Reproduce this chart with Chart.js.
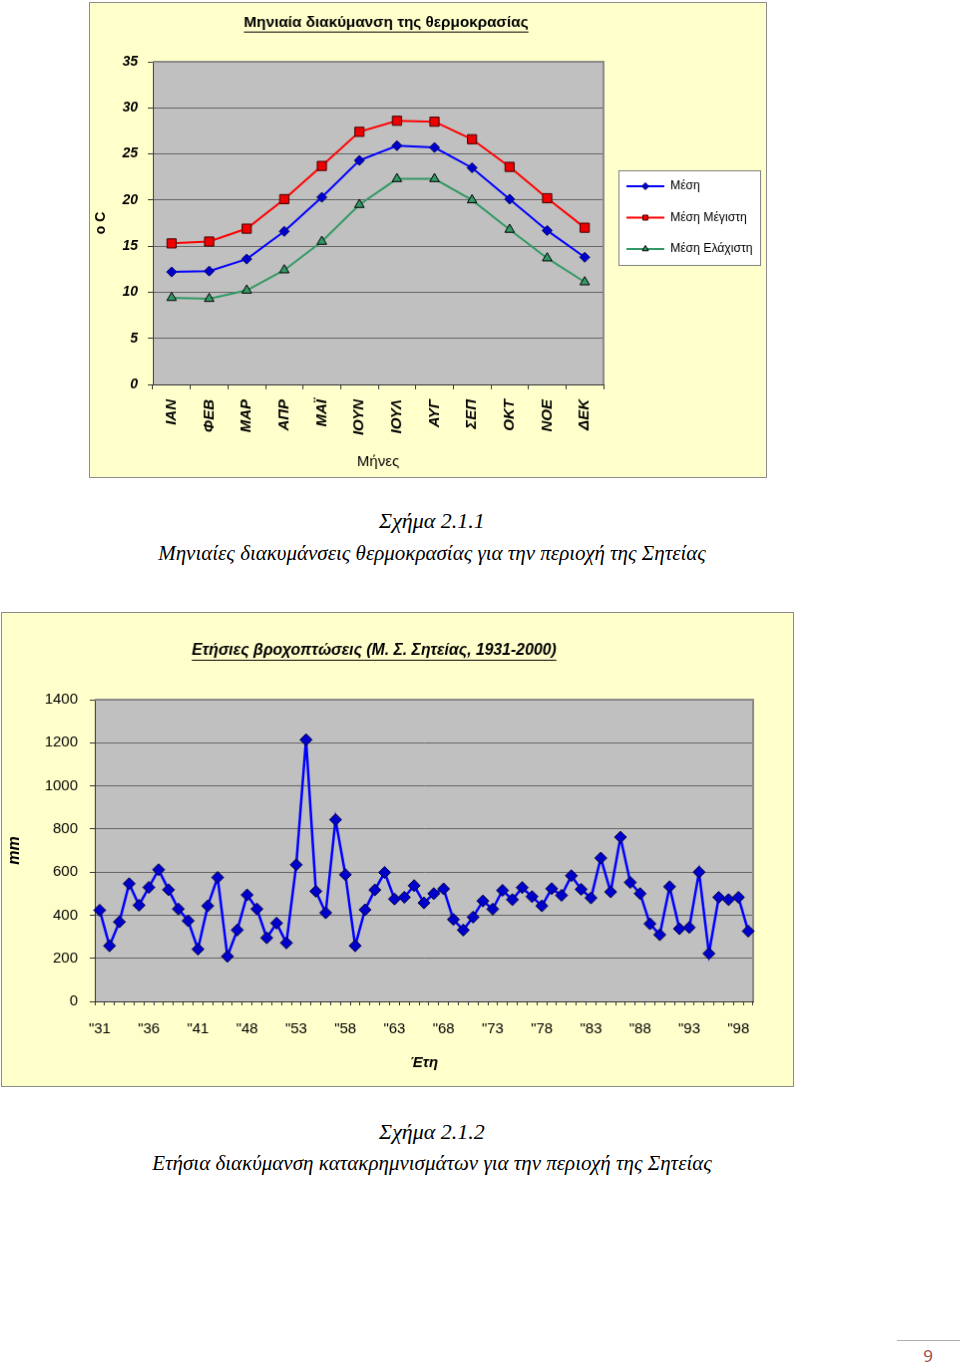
<!DOCTYPE html>
<html>
<head>
<meta charset="utf-8">
<script src="https://cdn.jsdelivr.net/npm/chart.js@4.4.0/dist/chart.umd.min.js"></script>
<style>
  body { margin: 0; background: #fff; width: 960px; height: 1371px; position: relative; overflow: hidden; }
  canvas { position: absolute; background: #ffffcc; border: 1px solid #8c8c8c; }
  .cap { position: absolute; left: 0; width: 864px; text-align: center; font-family: 'Liberation Serif', 'Times New Roman', serif;
         font-style: italic; font-size: 21px; line-height: 30px; color: #000; }
  .cap.num { font-size: 22px; }
  #pageLine { position: absolute; left: 897px; top: 1340px; width: 63px; height: 1px; background: #b0b0b0; }
  #pageNo { position: absolute; left: 915px; top: 1343px; width: 26px; text-align: center; font-family: 'Noto Sans', sans-serif;
            font-size: 17px; line-height: 26px; color: #a0504a; }
</style>
</head>
<body>
<canvas id="temp" width="678" height="476" style="left:89px;top:2px"></canvas>
<div class="cap num" style="top:506px">Σχήμα 2.1.1</div>
<div class="cap" style="top:538px">Μηνιαίες διακυμάνσεις θερμοκρασίας για την περιοχή της Σητείας</div>

<canvas id="rain" width="793" height="475" style="left:1px;top:612px"></canvas>
<div class="cap num" style="top:1117px">Σχήμα 2.1.2</div>
<div class="cap" style="top:1148px">Ετήσια διακύμανση κατακρημνισμάτων για την περιοχή της Σητείας</div>

<div id="pageLine"></div>
<div id="pageNo">9</div>

<script>
// monthly temperatures (°C)
const months = ["ΙΑΝ", "ΦΕΒ", "ΜΑΡ", "ΑΠΡ", "ΜΑΪ", "ΙΟΥΝ", "ΙΟΥΛ", "ΑΥΓ", "ΣΕΠ", "ΟΚΤ", "ΝΟΕ", "ΔΕΚ"];
const meanTemp = [12.2, 12.3, 13.6, 16.6, 20.3, 24.3, 25.9, 25.7, 23.5, 20.1, 16.7, 13.8];
const maxTemp = [15.3, 15.5, 16.9, 20.1, 23.7, 27.4, 28.6, 28.5, 26.6, 23.6, 20.2, 17.0];
const minTemp = [9.4, 9.3, 10.2, 12.4, 15.5, 19.5, 22.3, 22.3, 20.0, 16.8, 13.7, 11.1];

// yearly rainfall (mm), 1931-2000 with gaps
const rainfall = [
  423, 258, 369, 546, 446, 529, 611, 518, 429, 374,
  242, 443, 575, 209, 331, 494, 429, 295, 363, 271,
  634, 1214, 511, 411, 843, 588, 258, 425, 517, 598,
  475, 483, 537, 457, 500, 522, 380, 331, 391, 466,
  428, 515, 472, 528, 486, 443, 523, 492, 583, 520,
  480, 665, 508, 762, 552, 500, 360, 309, 532, 337,
  343, 600, 222, 483, 472, 483, 326
];
const yearTicks = ['"31', '"36', '"41', '"48', '"53', '"58', '"63', '"68', '"73', '"78', '"83', '"88', '"93', '"98'];
const yearLabels = rainfall.map((v, i) => (i % 5 === 0 ? yearTicks[i / 5] : ""));

const FONT = "'Liberation Sans', Arial, sans-serif";

const plotBg = {
  id: "plotBg",
  beforeDraw(chart) {
    const { ctx, chartArea: a } = chart;
    ctx.save();
    ctx.fillStyle = "#c0c0c0";
    ctx.fillRect(a.left, a.top, a.right - a.left, a.bottom - a.top);
    ctx.restore();
  },
  beforeDatasetsDraw(chart) {
    const { ctx, chartArea: a } = chart;
    ctx.save();
    ctx.strokeStyle = "#8a8a8a";
    ctx.lineWidth = 2;
    ctx.beginPath();
    ctx.moveTo(a.left, a.top);
    ctx.lineTo(a.right, a.top);
    ctx.lineTo(a.right, a.bottom);
    ctx.stroke();
    ctx.restore();
  },
};

const underlinedTitle = {
  id: "underlinedTitle",
  afterDraw(chart, args, opts) {
    const ctx = chart.ctx;
    ctx.save();
    ctx.font = opts.font;
    ctx.fillStyle = "#000";
    ctx.textAlign = "center";
    ctx.textBaseline = "middle";
    ctx.fillText(opts.text, opts.x, opts.y);
    const w = ctx.measureText(opts.text).width;
    ctx.fillRect(opts.x - w / 2, opts.y + opts.size / 2 + 1, w, 1);
    ctx.restore();
  },
};

const boxLegend = {
  id: "boxLegend",
  afterDraw(chart, args, opts) {
    const ctx = chart.ctx;
    ctx.save();
    ctx.fillStyle = "#fff";
    ctx.fillRect(opts.x, opts.y, opts.w, opts.h);
    ctx.strokeStyle = "#808080";
    ctx.lineWidth = 1;
    ctx.strokeRect(opts.x + 0.5, opts.y + 0.5, opts.w, opts.h);
    chart.data.datasets.forEach((ds, i) => {
      const y = opts.y + opts.first + i * opts.gap;
      const x0 = opts.x + 8;
      ctx.strokeStyle = ds.borderColor;
      ctx.lineWidth = 2;
      ctx.beginPath();
      ctx.moveTo(x0, y);
      ctx.lineTo(x0 + 38, y);
      ctx.stroke();
      ctx.fillStyle = ds.pointBackgroundColor;
      ctx.strokeStyle = ds.pointBorderColor;
      ctx.lineWidth = 1;
      Chart.helpers.drawPoint(ctx, { pointStyle: ds.pointStyle, radius: 3.5, borderWidth: 1, rotation: 0 }, x0 + 19, y);
      ctx.fillStyle = "#000";
      ctx.font = "12.2px " + FONT;
      ctx.textAlign = "left";
      ctx.textBaseline = "middle";
      ctx.fillText(ds.label, x0 + 44, y);
    });
    ctx.restore();
  },
};

function createTempChart(canvas) {
  return new Chart(canvas, {
    type: "line",
    data: {
      labels: months,
      datasets: [
        {
          label: "Μέση", data: meanTemp, borderColor: "#0000ff", borderWidth: 2,
          pointStyle: "rectRot", pointRadius: 5, pointBackgroundColor: "#0000cc", pointBorderColor: "#000066", pointBorderWidth: 1,
        },
        {
          label: "Μέση Μέγιστη", data: maxTemp, borderColor: "#ff0000", borderWidth: 2,
          pointStyle: "rect", pointRadius: 6.5, pointBackgroundColor: "#ee0000", pointBorderColor: "#400000", pointBorderWidth: 1,
        },
        {
          label: "Μέση Ελάχιστη", data: minTemp, borderColor: "#339966", borderWidth: 2,
          pointStyle: "triangle", pointRadius: 5.5, pointBackgroundColor: "#339966", pointBorderColor: "#000000", pointBorderWidth: 1,
        },
      ],
    },
    options: {
      responsive: false,
      animation: false,
      events: [],
      layout: { padding: { left: 0, top: 59, right: 163, bottom: 0 } },
      plugins: {
        legend: { display: false },
        tooltip: { enabled: false },
        underlinedTitle: { text: "Μηνιαία διακύμανση της θερμοκρασίας", x: 297, y: 20, size: 15.3, font: "bold 15.3px " + FONT },
        boxLegend: { x: 530, y: 168, w: 142, h: 95, first: 16, gap: 31.5 },
      },
      scales: {
        x: {
          offset: true,
          grid: { display: true, offset: true, drawOnChartArea: false, drawTicks: true, tickLength: 5, color: "#333" },
          border: { color: "#333" },
          ticks: { minRotation: 90, maxRotation: 90, padding: 10, color: "#000", font: { family: FONT, size: 15, weight: "bold", style: "italic" } },
          title: { display: true, text: "Μήνες", color: "#000", font: { family: FONT, size: 15 }, padding: { top: 0, bottom: 6 } },
          afterFit(s) { s.height = 93; s.paddingLeft = 0; s.paddingRight = 0; },
        },
        y: {
          min: 0, max: 35,
          grid: { color: "#666", tickColor: "#333", tickLength: 5 },
          border: { color: "#333" },
          ticks: { stepSize: 5, padding: 10, color: "#000", font: { family: FONT, size: 14, weight: "bold", style: "italic" } },
          title: { display: true, text: "o C", color: "#000", font: { family: FONT, size: 14, weight: "bold" }, padding: { top: 3, bottom: 0 } },
          afterFit(s) { s.width = 63; s.paddingTop = 0; s.paddingBottom = 0; },
        },
      },
    },
    plugins: [plotBg, underlinedTitle, boxLegend],
  });
}

function createRainChart(canvas) {
  return new Chart(canvas, {
    type: "line",
    data: {
      labels: yearLabels,
      datasets: [
        {
          label: "mm", data: rainfall, borderColor: "#0000ff", borderWidth: 2.5,
          pointStyle: "rectRot", pointRadius: 6, pointBackgroundColor: "#0000cc", pointBorderColor: "#000040", pointBorderWidth: 1,
        },
      ],
    },
    options: {
      responsive: false,
      animation: false,
      events: [],
      layout: { padding: { left: 0, top: 87, right: 40, bottom: 0 } },
      plugins: {
        legend: { display: false },
        tooltip: { enabled: false },
        underlinedTitle: { text: "Ετήσιες βροχοπτώσεις (Μ. Σ. Σητείας, 1931-2000)", x: 373, y: 38, size: 15.8, font: "italic bold 15.8px " + FONT },
      },
      scales: {
        x: {
          offset: true,
          grid: { display: true, offset: true, drawOnChartArea: false, drawTicks: true, tickLength: 4, color: "#333" },
          border: { color: "#333" },
          ticks: { autoSkip: false, minRotation: 0, maxRotation: 0, padding: 15, color: "#000", font: { family: FONT, size: 15 } },
          title: { display: true, text: "Έτη", color: "#000", font: { family: FONT, size: 15, weight: "bold", style: "italic" }, padding: { top: 0, bottom: 14 } },
          afterFit(s) { s.height = 85; s.paddingLeft = 0; s.paddingRight = 0; },
        },
        y: {
          min: 0, max: 1400,
          grid: { color: "#666", tickColor: "#333", tickLength: 5 },
          border: { color: "#333" },
          ticks: { stepSize: 200, padding: 12, color: "#000", font: { family: FONT, size: 15 }, callback: (v) => String(v) },
          title: { display: true, text: "mm", color: "#000", font: { family: FONT, size: 16, weight: "bold", style: "italic" }, padding: { top: 3, bottom: 0 } },
          afterFit(s) { s.width = 93; s.paddingTop = 0; s.paddingBottom = 0; },
        },
      },
    },
    plugins: [plotBg, underlinedTitle],
  });
}

createTempChart(document.getElementById("temp"));
createRainChart(document.getElementById("rain"));
</script>
</body>
</html>
